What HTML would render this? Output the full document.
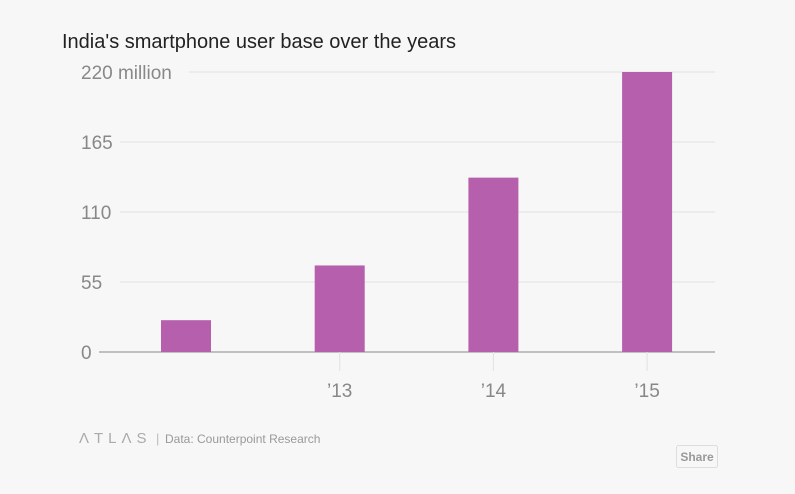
<!DOCTYPE html>
<html><head><meta charset="utf-8"><style>
body{margin:0;background:#f7f7f7;font-family:"Liberation Sans",sans-serif;}
svg{display:block}
</style></head><body>
<svg width="795" height="494" id="c">
<text x="62" y="48" font-size="20" fill="#222">India's smartphone user base over the years</text>
<g id="grid"></g><g id="bars"></g><g id="xax"></g>
<text x="79" y="443" font-size="15" fill="#aaa" letter-spacing="5">ΛTLΛS</text>
<text x="156" y="443" font-size="13" fill="#bbb">|</text>
<text x="165" y="443" font-size="12" fill="#999">Data: Counterpoint Research</text>
<g><rect x="676.5" y="445.5" width="41" height="22" rx="2" fill="#f7f7f7" stroke="#ddd"/><text x="697" y="461" font-size="12" fill="#999" text-anchor="middle" font-weight="bold">Share</text></g>
</svg>
<script>
const categories=["12","13","14","15"];
const tickLabelsX=["","’13","’14","’15"];
const values=[25,68,137,220];
const yTicks=[0,55,110,165,220];
const ns="http://www.w3.org/2000/svg";
const y=v=>352-v*280/220;
const x=i=>186+i*153.7;
function mk(t,a,p){const e=document.createElementNS(ns,t);for(const k in a)e.setAttribute(k,a[k]);p.appendChild(e);return e;}
const g=document.getElementById('grid');
yTicks.forEach(v=>{
 const lab=v===220?'220 million':String(v);
 const t=mk('text',{x:81,y:y(v)+7,'font-size':19,fill:'#888'},g);t.textContent=lab;
 
 
 const x0=v===220?189:(v===0?99:120);
 const l=mk('line',{x1:x0,x2:715,y1:y(v),y2:y(v),stroke:v===0?'#888':'#e2e2e2','stroke-width':1},g);
 
 
});
const b=document.getElementById('bars');
values.forEach((v,i)=>{
 const r=mk('rect',{x:x(i)-25,y:y(v),width:50,height:352-y(v),fill:'#b65fac'},b);
 
 
});
const xa=document.getElementById('xax');
tickLabelsX.forEach((s,i)=>{
 if(!s)return;
 const l=mk('line',{x1:x(i),x2:x(i),y1:352,y2:371,stroke:'#e2e2e2'},xa);
 
 
 const t=mk('text',{x:x(i),y:397,'font-size':19,fill:'#888','text-anchor':'middle'},xa);t.textContent=s;
 
 
});
</script>
</body></html>
